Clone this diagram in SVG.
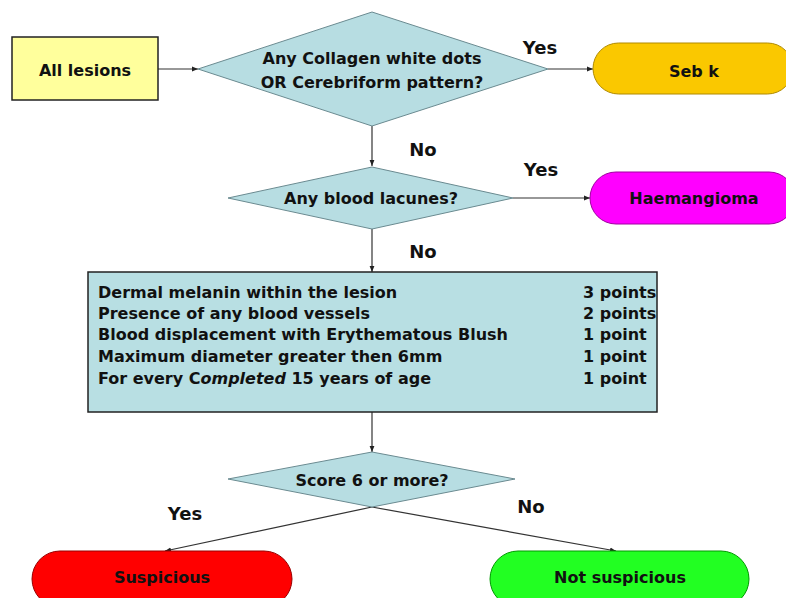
<svg xmlns="http://www.w3.org/2000/svg" width="786" height="598" viewBox="0 0 786 598">
<defs>
<marker id="arr" viewBox="0 0 10 10" refX="10" refY="5" markerWidth="6" markerHeight="6" orient="auto" markerUnits="userSpaceOnUse">
<path d="M0,1 L10,5 L0,9 z" fill="#222"/>
</marker>
<style>
.t{font-family:"DejaVu Sans",Verdana,sans-serif;font-weight:bold;font-size:16px;fill:#111}
.lbl{font-family:"DejaVu Sans",Verdana,sans-serif;font-weight:bold;font-size:18px;fill:#111}
.dia{fill:#b7dde2;stroke:#6a8a90;stroke-width:1}
.edge{stroke:#333;stroke-width:1.2;fill:none;marker-end:url(#arr)}
</style>
</defs>
<rect width="786" height="598" fill="#fff"/>
<g id="connectors">
<line class="edge" x1="158" y1="69" x2="198" y2="69"/>
<line class="edge" x1="548" y1="69" x2="593" y2="69"/>
<line class="edge" x1="372" y1="126" x2="372" y2="166"/>
<line class="edge" x1="513" y1="198" x2="590" y2="198"/>
<line class="edge" x1="372" y1="229" x2="372" y2="272"/>
<line class="edge" x1="372" y1="412" x2="372" y2="452"/>
<line class="edge" x1="372" y1="507" x2="165" y2="551"/>
<line class="edge" x1="372" y1="507" x2="616" y2="551"/>
<text class="lbl" x="540" y="54" text-anchor="middle">Yes</text>
<text class="lbl" x="423" y="156" text-anchor="middle">No</text>
<text class="lbl" x="541" y="176" text-anchor="middle">Yes</text>
<text class="lbl" x="423" y="258" text-anchor="middle">No</text>
<text class="lbl" x="185" y="520" text-anchor="middle">Yes</text>
<text class="lbl" x="531" y="513" text-anchor="middle">No</text>
</g>
<g id="all-lesions">
<rect x="12" y="37" width="146" height="63" fill="#ffff9c" stroke="#222" stroke-width="1.5"/>
<text class="t" x="85" y="76" text-anchor="middle" font-size="16.5">All lesions</text>
</g>
<g id="decision-collagen">
<polygon class="dia" points="198,69 372,12 548,69 372,126"/>
<text class="t" x="372" y="64" text-anchor="middle">Any Collagen white dots</text>
<text class="t" x="372" y="88" text-anchor="middle">OR Cerebriform pattern?</text>
</g>
<g id="seb-k">
<rect x="593" y="43" width="200" height="51" rx="25.5" fill="#fac800" stroke="#b08a00" stroke-width="1"/>
<text class="t" x="694" y="77" text-anchor="middle" font-size="16.5">Seb k</text>
</g>
<g id="decision-lacunes">
<polygon class="dia" points="228,198 372,167 513,198 372,229"/>
<text class="t" x="371" y="204" text-anchor="middle">Any blood lacunes?</text>
</g>
<g id="haemangioma">
<rect x="590" y="172" width="205" height="52" rx="26" fill="#ff00ff" stroke="#a000a0" stroke-width="1"/>
<text class="t" x="694" y="204" text-anchor="middle">Haemangioma</text>
</g>
<g id="score-box">
<rect x="88" y="272" width="569" height="140" fill="#b8dfe3" stroke="#222" stroke-width="1.5"/>
<text class="t" x="98" y="298">Dermal melanin within the lesion</text>
<text class="t" x="98" y="319">Presence of any blood vessels</text>
<text class="t" x="98" y="340">Blood displacement with Erythematous Blush</text>
<text class="t" x="98" y="362">Maximum diameter greater then 6mm</text>
<text class="t" x="98" y="384">For every C<tspan font-style="italic">ompleted</tspan> 15 years of age</text>
<text class="t" x="583" y="298">3 points</text>
<text class="t" x="583" y="319">2 points</text>
<text class="t" x="583" y="340">1 point</text>
<text class="t" x="583" y="362">1 point</text>
<text class="t" x="583" y="384">1 point</text>
</g>
<g id="decision-score">
<polygon class="dia" points="228,479 372,452 515,479 372,507"/>
<text class="t" x="372" y="486" text-anchor="middle" font-size="15.5">Score 6 or more?</text>
</g>
<g id="suspicious">
<rect x="32" y="551" width="260" height="56" rx="28" fill="#ff0000" stroke="#900" stroke-width="1"/>
<text class="t" x="162" y="583" text-anchor="middle" font-size="15.5">Suspicious</text>
</g>
<g id="not-suspicious">
<rect x="490" y="551" width="259" height="56" rx="28" fill="#22ff22" stroke="#090" stroke-width="1"/>
<text class="t" x="620" y="583" text-anchor="middle" font-size="15.5">Not suspicious</text>
</g>
</svg>
